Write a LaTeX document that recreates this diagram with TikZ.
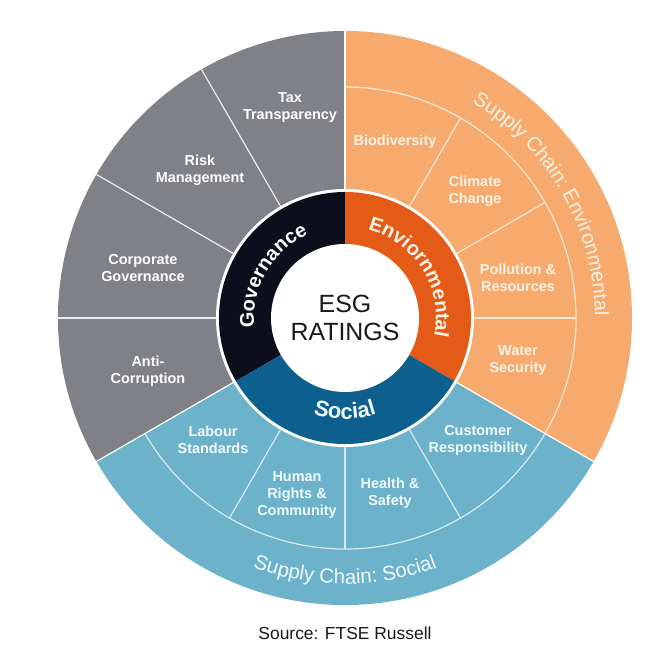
\documentclass[tikz,border=0pt]{standalone}
\usepackage{fontspec}
\setmainfont{Liberation Sans}
\usetikzlibrary{decorations.text}

\definecolor{govgray}{HTML}{808187}
\definecolor{govdark}{HTML}{0C0E1B}
\definecolor{envlight}{HTML}{F6AA6E}
\definecolor{envdark}{HTML}{E45A17}
\definecolor{soclight}{HTML}{6CB2CB}
\definecolor{socdark}{HTML}{0D5F8E}
\definecolor{envtext}{HTML}{FFF3E6}
\definecolor{soctext}{HTML}{F0FAFD}

% colour, start angle, end angle, inner radius, outer radius
\newcommand{\ringpart}[5]{%
  \fill[#1] (#2:#4bp) arc[start angle=#2, end angle=#3, radius=#4bp]
    -- (#3:#5bp) arc[start angle=#3, end angle=#2, radius=#5bp] -- cycle;}

\begin{document}
\begin{tikzpicture}[x=1bp, y=1bp,
  topic/.style={align=center, inner sep=0pt, font=\bfseries\fontsize{14.5}{17}\selectfont},
  gtopic/.style={topic, text=white},
  etopic/.style={topic, text=envtext},
  stopic/.style={topic, text=soctext},
  gline/.style={draw=white!85!govgray, line width=1.2bp},
  eline/.style={draw=envtext!85!envlight, line width=1.2bp},
  sline/.style={draw=soctext!80!soclight, line width=1.2bp}]
\useasboundingbox (0,0) rectangle (668,665);
\begin{scope}[shift={(345,347)}]
 % outer wedges
 \ringpart{govgray}{90}{210}{0}{287}
 \ringpart{envlight}{-30}{90}{0}{287}
 \ringpart{soclight}{210}{330}{0}{287}
 % topic dividers
 \foreach \a in {120,150,180} \draw[gline] (\a:129bp) -- (\a:287bp);
 \foreach \a in {0,30,60} \draw[eline] (\a:129bp) -- (\a:231bp);
 \foreach \a in {240,270,300} \draw[sline] (\a:129bp) -- (\a:231bp);
 \draw[eline] (-30:231bp) arc[start angle=-30, end angle=90, radius=231bp];
 \draw[sline] (210:231bp) arc[start angle=210, end angle=330, radius=231bp];
 \foreach \a in {90,210,330} \draw[white, line width=1.2bp] (\a:129bp) -- (\a:287bp);
 % pillar ring
 \fill[white] (0,0) circle[radius=129bp];
 \ringpart{govdark}{90}{210}{0}{126}
 \ringpart{envdark}{-30}{90}{0}{126}
 \ringpart{socdark}{210}{330}{0}{126}
 \fill[white] (0,0) circle[radius=74bp];

 \node[font=\fontsize{25}{28}\selectfont, align=center, text=black!90] (esg) at (0,0) {ESG\\RATINGS};

 \path[decorate, decoration={text along path, text align=center, text color=white,
   text={|\bfseries\fontsize{20}{20}\selectfont|Governance}}]
   (205:91bp) arc[start angle=205, end angle=95, radius=91bp];
 \path[decorate, decoration={text along path, text align=center, text color=envtext,
   text={|\bfseries\fontsize{20}{20}\selectfont|Enviornmental}}]
   (87:91bp) arc[start angle=87, end angle=-23, radius=91bp];
 \path[decorate, decoration={text along path, text align=center, text color=soctext,
   text={|\bfseries\fontsize{22}{22}\selectfont|Social}}]
   (235:101bp) arc[start angle=235, end angle=305, radius=101bp];

 \path[decorate, decoration={text along path, text align=center, text color=envtext,
   text={|\fontsize{20}{20}\selectfont|Supply Chain: Environmental}}]
   (85:250bp) arc[start angle=85, end angle=-25, radius=250bp];
 \path[decorate, decoration={text along path, text align=center, text color=soctext,
   text={|\fontsize{20.5}{20.5}\selectfont|Supply Chain: Social}}]
   (220:266bp) arc[start angle=220, end angle=320, radius=266bp];

 % governance topics
 \node[gtopic] (tax) at (-55,210) {Tax\\Transparency};
 \node[gtopic] (risk) at (-145,148) {Risk\\Management};
 \node[gtopic] (corp) at (-202,50) {Corporate\\Governance};
 \node[gtopic] (anti) at (-197,-53) {Anti-\\Corruption};
 % environmental topics
 \node[etopic] (bio) at (50,176) {Biodiversity};
 \node[etopic] (clim) at (130,127) {Climate\\Change};
 \node[etopic] (poll) at (173,40) {Pollution \&\\Resources};
 \node[etopic] (water) at (173,-43) {Water\\Security};
 % social topics
 \node[stopic] (cust) at (133,-122) {Customer\\Responsibility};
 \node[stopic] (health) at (45,-175) {Health \&\\Safety};
 \node[stopic] (human) at (-48,-177) {Human\\Rights \&\\Community};
 \node[stopic] (labour) at (-132,-122) {Labour\\Standards};

 \node[font=\fontsize{17.5}{17.5}\selectfont, text=black!90] (src) at (0,-315) {Source: FTSE Russell};
\end{scope}
\end{tikzpicture}
\end{document}
